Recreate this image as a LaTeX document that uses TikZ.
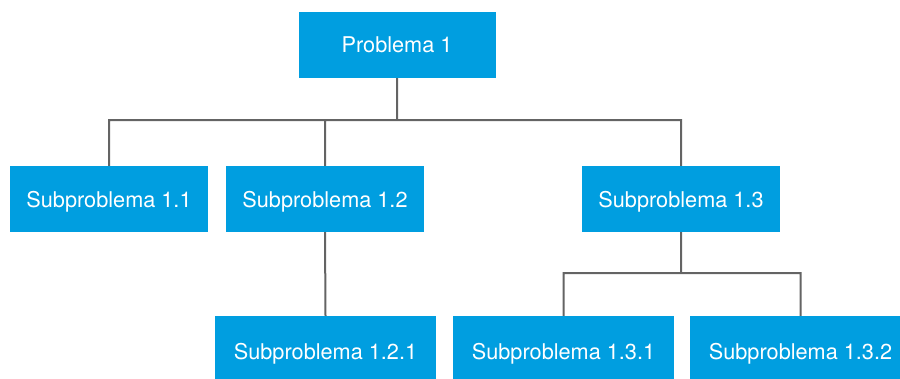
\documentclass[tikz,border=0pt]{standalone}
\usepackage{fontspec}
\setmainfont{TeX Gyre Heros}
\usepackage{tikz}
\definecolor{boxblue}{RGB}{0,158,224}
\definecolor{linegray}{RGB}{100,100,100}
\tikzset{
	prob/.style={fill=boxblue, text=white, minimum height=66pt, inner sep=0pt,
		text depth=0pt, font=\fontsize{21.7}{24}\selectfont},
	conn/.style={draw=linegray, line width=2pt}
}

\begin{document}
\begin{tikzpicture}[x=1pt, y=-1pt]
\useasboundingbox (0,0) rectangle (900,379);
% top
\node[prob, minimum width=197pt] (p1) at (397,45) {Problema 1};
% second row
\node[prob, minimum width=198pt] (s11) at (109,199) {Subproblema 1.1};
\node[prob, minimum width=198pt] (s12) at (325,199) {Subproblema 1.2};
\node[prob, minimum width=198pt] (s13) at (681,199) {Subproblema 1.3};
% third row
\node[prob, minimum width=221pt, minimum height=70pt] (s121) at (325.5,351) {Subproblema 1.2.1};
\node[prob, minimum width=221pt, minimum height=70pt] (s131) at (563.5,351) {Subproblema 1.3.1};
\node[prob, minimum width=221pt, minimum height=70pt] (s132) at (800.5,351) {Subproblema 1.3.2};
\path[conn]
(p1.south) -- ++(0,42) -| (s11.north)
(p1.south) -- ++(0,42) -| (s12.north)
(p1.south) -- ++(0,42) -| (s13.north)
(s12.south) -- (s121.north)
(s13.south) -- ++(0,41) -| (s131.north)
(s13.south) -- ++(0,41) -| (s132.north)
;
\end{tikzpicture}
\end{document}
